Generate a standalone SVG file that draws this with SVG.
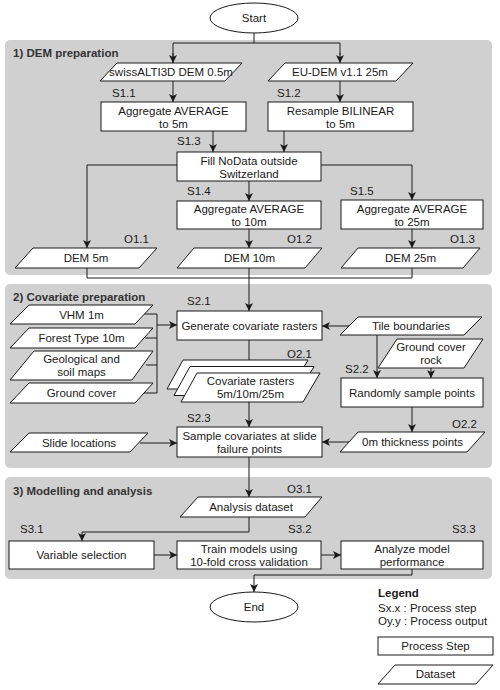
<svg xmlns="http://www.w3.org/2000/svg" width="500" height="690" viewBox="0 0 500 690">
<style>
text{font-family:"Liberation Sans",Arial,sans-serif;font-size:11.5px;fill:#1a1a1a}
.t{font-weight:bold;fill:#333}
.c{text-anchor:middle}
.sec{fill:#d0d0d0}
.n{fill:#fff;stroke:#1a1a1a;stroke-width:1}
.e{fill:none;stroke:#1a1a1a;stroke-width:1}
.a{marker-end:url(#ah)}
</style>
<defs>
<marker id="ah" markerWidth="9" markerHeight="8" refX="8" refY="4" orient="auto" markerUnits="userSpaceOnUse">
<path d="M0,0 L8,4 L0,8 L2,4 z" fill="#1a1a1a"/>
</marker>
</defs>
<rect width="500" height="690" fill="#fff"/>
<g id="sections">
<rect class="sec" x="5" y="40" width="487" height="235" rx="5"/>
<rect class="sec" x="5" y="284" width="487" height="184" rx="5"/>
<rect class="sec" x="5" y="477" width="487" height="102" rx="5"/>
<text class="t" x="13" y="57">1) DEM preparation</text>
<text class="t" x="13" y="301">2) Covariate preparation</text>
<text class="t" x="13" y="495">3) Modelling and analysis</text>
</g>
<g id="connectors">
<path class="e" d="M254,33 V43 H173 V63"/>
<path class="e a" d="M173,53 V63"/>
<path class="e" d="M254,43 H340 V55"/>
<path class="e a" d="M340,53 V63"/>
<path class="e a" d="M173,81 V102"/>
<path class="e a" d="M340,81 V102"/>
<path class="e a" d="M213,131 V152"/>
<path class="e a" d="M284,131 V152"/>
<path class="e a" d="M177,165 H87 V248"/>
<path class="e a" d="M321,165 H412 V200"/>
<path class="e a" d="M249,181 V201"/>
<path class="e a" d="M249,229 V248"/>
<path class="e a" d="M412,229 V248"/>
<path class="e" d="M87,268 V278 H412 V268"/>
<path class="e a" d="M249,268 V311"/>
<path class="e" d="M144,314 H157 M145,338 H157 M146,365 H157 M144,393 H157 M157,314 V393"/>
<path class="e a" d="M157,325 H177"/>
<path class="e a" d="M349,326 H322"/>
<path class="e a" d="M377,335 V378"/>
<path class="e a" d="M431,368 V378"/>
<path class="e a" d="M249,340 V373"/>
<path class="e a" d="M249,402 V427"/>
<path class="e a" d="M140,443 H177"/>
<path class="e a" d="M349,442 H322"/>
<path class="e a" d="M412,407 V432"/>
<path class="e a" d="M249,457 V497"/>
<path class="e a" d="M249,517 V532 H82 V541"/>
<path class="e a" d="M154,555 H177"/>
<path class="e a" d="M321,555 H341"/>
<path class="e a" d="M412,569 V575 H254 V592"/>
</g>
<g id="start"><ellipse class="n" cx="254" cy="18" rx="44" ry="15"/><text class="c" x="254" y="22">Start</text></g>
<g id="swiss"><polygon class="n" points="117,63 242,63 225,81 100,81"/><text class="c" x="171" y="76">swissALTI3D DEM 0.5m</text></g>
<g id="eudem"><polygon class="n" points="285,63 413,63 396,81 268,81"/><text class="c" x="340" y="76">EU-DEM v1.1 25m</text></g>
<g id="s11"><text x="112" y="97">S1.1</text><rect class="n" x="101" y="102" width="145" height="29"/><text class="c" x="173.5" y="115">Aggregate AVERAGE</text><text class="c" x="173.5" y="128">to 5m</text></g>
<g id="s12"><text x="277" y="97">S1.2</text><rect class="n" x="268" y="102" width="145" height="29"/><text class="c" x="340.5" y="115">Resample BILINEAR</text><text class="c" x="340.5" y="128">to 5m</text></g>
<g id="s13"><text x="177" y="145">S1.3</text><rect class="n" x="177" y="152" width="144" height="29"/><text class="c" x="249" y="164.5">Fill NoData outside</text><text class="c" x="249" y="177.5">Switzerland</text></g>
<g id="s14"><text x="187" y="195">S1.4</text><rect class="n" x="177" y="201" width="144" height="28"/><text class="c" x="249" y="213">Aggregate AVERAGE</text><text class="c" x="249" y="226">to 10m</text></g>
<g id="s15"><text x="350" y="195">S1.5</text><rect class="n" x="341" y="200" width="142" height="29"/><text class="c" x="412" y="213">Aggregate AVERAGE</text><text class="c" x="412" y="226">to 25m</text></g>
<g id="o11"><text x="124" y="243">O1.1</text><polygon class="n" points="33,248 157,248 139,268 15,268"/><text class="c" x="86" y="262">DEM 5m</text></g>
<g id="o12"><text x="287" y="243">O1.2</text><polygon class="n" points="194,248 322,248 305,268 177,268"/><text class="c" x="249.5" y="262">DEM 10m</text></g>
<g id="o13"><text x="450" y="243">O1.3</text><polygon class="n" points="358,248 480,248 463,268 341,268"/><text class="c" x="410.5" y="262">DEM 25m</text></g>
<g id="vhm"><polygon class="n" points="29,305 153,305 135,324 10,324"/><text class="c" x="81.5" y="319">VHM 1m</text></g>
<g id="forest"><polygon class="n" points="29,328 153,328 135,348 10,348"/><text class="c" x="81.5" y="342">Forest Type 10m</text></g>
<g id="geo"><polygon class="n" points="34,351 153,351 132,380 10,380"/><text class="c" x="81.5" y="363">Geological and</text><text class="c" x="81.5" y="376">soil maps</text></g>
<g id="ground"><polygon class="n" points="29,383 153,383 135,403 10,403"/><text class="c" x="81.5" y="397">Ground cover</text></g>
<g id="s21"><text x="187" y="305">S2.1</text><rect class="n" x="177" y="311" width="145" height="29"/><text class="c" x="249.5" y="329.5">Generate covariate rasters</text></g>
<g id="tile"><polygon class="n" points="358,317 482,317 464,335 340,335"/><text class="c" x="411" y="330">Tile boundaries</text></g>
<g id="rock"><polygon class="n" points="397,339 483,339 464,368 378,368"/><text class="c" x="431" y="351">Ground cover</text><text class="c" x="431" y="364">rock</text></g>
<g id="o21"><text x="287" y="358">O2.1</text>
<polygon class="n" points="183,360 308,360 291,389 167,389"/>
<polygon class="n" points="190,366.5 314,366.5 297,395.5 174,395.5"/>
<polygon class="n" points="197,373 320,373 303,402 181,402"/>
<text class="c" x="250.5" y="385">Covariate rasters</text><text class="c" x="250.5" y="398">5m/10m/25m</text></g>
<g id="s22"><text x="345" y="373">S2.2</text><rect class="n" x="341" y="378" width="142" height="29"/><text class="c" x="412" y="396.5">Randomly sample points</text></g>
<g id="o22"><text x="452" y="428">O2.2</text><polygon class="n" points="358,432 485,432 467,452 340,452"/><text class="c" x="412.5" y="446">0m thickness points</text></g>
<g id="slide"><polygon class="n" points="29,433 148,433 130,452 10,452"/><text class="c" x="79" y="447">Slide locations</text></g>
<g id="s23"><text x="187" y="422">S2.3</text><rect class="n" x="177" y="427" width="145" height="30"/><text class="c" x="249.5" y="440">Sample covariates at slide</text><text class="c" x="249.5" y="453">failure points</text></g>
<g id="o31"><text x="287" y="493">O3.1</text><polygon class="n" points="198,497 322,497 305,517 180,517"/><text class="c" x="251" y="511">Analysis dataset</text></g>
<g id="s31"><text x="20" y="533">S3.1</text><rect class="n" x="9" y="541" width="145" height="28"/><text class="c" x="81.5" y="559">Variable selection</text></g>
<g id="s32"><text x="288" y="533">S3.2</text><rect class="n" x="177" y="541" width="144" height="28"/><text class="c" x="249" y="553">Train models using</text><text class="c" x="249" y="566">10-fold cross validation</text></g>
<g id="s33"><text x="452" y="533">S3.3</text><rect class="n" x="341" y="541" width="142" height="28"/><text class="c" x="412" y="553">Analyze model</text><text class="c" x="412" y="566">performance</text></g>
<g id="end"><ellipse class="n" cx="254" cy="607" rx="44" ry="15"/><text class="c" x="254" y="611">End</text></g>
<g id="legend">
<text class="t" x="378" y="597" style="fill:#1a1a1a">Legend</text>
<text x="378" y="612">Sx.x : Process step</text>
<text x="378" y="625">Oy.y : Process output</text>
<rect class="n" x="378" y="637" width="115" height="18"/><text class="c" x="435.5" y="650">Process Step</text>
<polygon class="n" points="395,665 493,665 476,684 378,684"/><text class="c" x="435.5" y="678">Dataset</text>
</g>
</svg>
